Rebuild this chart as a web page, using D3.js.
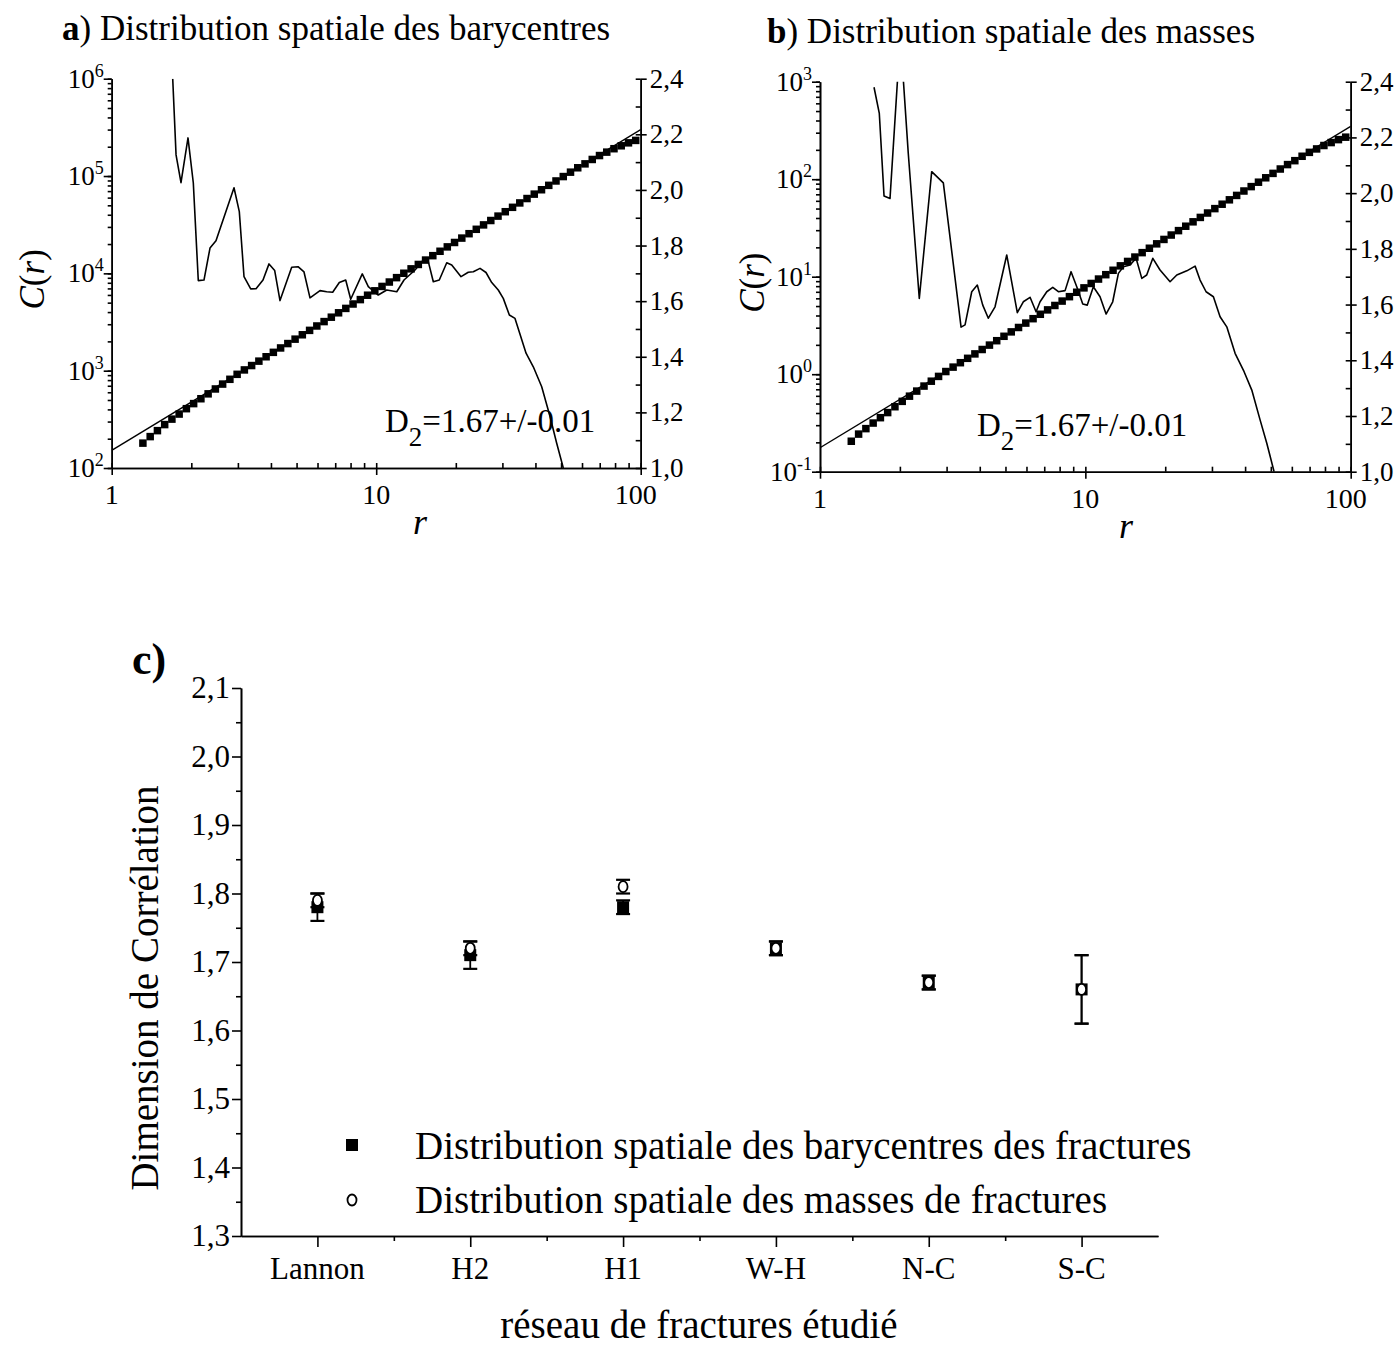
<!DOCTYPE html>
<html><head><meta charset="utf-8">
<script src="https://cdn.jsdelivr.net/npm/d3@7"></script>
<style>
body{margin:0;background:#fff}
svg{display:block}
text{font-family:"Liberation Serif","Times New Roman",serif;fill:#000}
</style>
</head><body>
<svg id="chart" width="1399" height="1347"></svg>
<script>
// ---------- DATA ----------
const radii = [1.312,1.398,1.489,1.586,1.689,1.799,1.916,2.041,2.174,2.315,2.466,2.627,2.798,2.980,3.174,3.381,3.601,3.835,4.085,4.351,4.634,4.936,5.257,5.600,5.964,6.353,6.766,7.207,7.676,8.176,8.710,9.277,9.881,10.52,11.21,11.94,12.72,13.55,14.43,15.37,16.37,17.43,18.57,19.78,21.07,22.44,23.90,25.46,27.12,28.88,30.76,32.77,34.90,37.17,39.59,42.17,44.92,47.84,50.96,54.28,57.81,61.58,65.59,69.86,74.41,79.25,84.41,89.91,95.76];
const corrBary = [180.1,210.2,242.0,279.3,317.8,358.3,406.9,458.7,514.8,578.0,648.7,728.3,815.3,917.4,1018,1129,1253,1390,1543,1712,1899,2108,2338,2595,2879,3194,3544,3932,4363,4842,5373,5961,6614,7338,8143,9035,10025,11122,12343,13694,15195,16862,18707,20759,23031,25555,28354,31464,34909,38735,42981,47690,52918,58709,65147,72277,80203,88978,98741,109550,121560,133350,147960,162340,176010,190850,204490,219250,232280];
const corrMass = [0.2053,0.2430,0.2765,0.3155,0.3581,0.4040,0.4638,0.5266,0.5952,0.6712,0.7555,0.8477,0.9493,1.065,1.182,1.312,1.455,1.615,1.792,1.988,2.206,2.448,2.717,3.014,3.344,3.710,4.117,4.567,5.068,5.623,6.240,6.923,7.681,8.523,9.458,10.49,11.64,12.92,14.34,15.90,17.65,19.58,21.73,24.11,26.75,29.69,32.94,36.55,40.55,44.99,49.92,55.39,61.46,68.19,75.67,83.95,93.15,103.4,114.7,127.2,141.2,154.9,171.9,188.5,204.4,221.6,237.5,254.6,269.8];
const fitR = [1, 100];
const fitBary = [151.7, 299900];
const fitMass = [0.1762, 348.3];

const slopeBaryR = [1.701,1.751,1.828,1.943,2.035,2.125,2.233,2.353,2.479,2.900,3.037,3.164,3.354,3.513,3.733,3.933,4.133,4.328,4.792,5.063,5.334,5.620,6.131,6.500,6.847,7.253,7.669,8.010,8.859,9.336,10.18,10.96,11.96,12.74,14.02,15.07,15.74,16.44,17.32,18.48,19.30,20.93,22.29,23.29,24.69,26.01,27.34,28.94,30.23,31.87,33.48,36.86,39.26,42.24,45.41,48.13,50.98];
const slopeBaryV = [2.40,2.126,2.026,2.187,2.025,1.674,1.676,1.791,1.817,2.008,1.922,1.688,1.644,1.645,1.676,1.734,1.710,1.602,1.722,1.724,1.705,1.612,1.638,1.634,1.632,1.667,1.676,1.607,1.698,1.652,1.622,1.640,1.634,1.676,1.712,1.748,1.742,1.670,1.676,1.738,1.730,1.688,1.704,1.706,1.718,1.703,1.667,1.640,1.610,1.550,1.538,1.413,1.364,1.292,1.185,1.089,1.0];
const slopeMassR = [1.598,1.673,1.743,1.836,2.008,2.151,2.367,2.636,2.916,3.401,3.521,3.731,3.916,4.105,4.309,4.567,5.055,5.541,5.837,6.189,6.520,6.750,7.155,7.537,7.913,8.386,8.834,9.281,9.777,10.17,10.72,11.36,11.97,12.68,13.32,13.91,14.74,15.53,16.32,17.03,17.96,19.12,20.86,22.11,24.12,25.92,27.06,28.51,30.38,32.19,34.12,36.67,39.65,42.39,45.55,48.28,51.44];
const slopeMassV = [2.380,2.286,1.990,1.981,2.567,2.143,1.622,2.077,2.037,1.519,1.527,1.646,1.670,1.598,1.551,1.592,1.778,1.571,1.610,1.626,1.574,1.610,1.646,1.662,1.646,1.650,1.718,1.664,1.602,1.598,1.664,1.628,1.566,1.610,1.712,1.736,1.742,1.766,1.694,1.706,1.766,1.724,1.682,1.706,1.721,1.738,1.688,1.646,1.628,1.556,1.520,1.425,1.359,1.293,1.186,1.102,1.0];

const rTicks = [1, 10, 100];
const rTickLabels = ["1", "10", "100"];
const expA = [2, 3, 4, 5, 6];
const expB = [-1, 0, 1, 2, 3];
const slopeTicks = [1.0, 1.2, 1.4, 1.6, 1.8, 2.0, 2.2, 2.4];
const slopeTickLabels = ["1,0","1,2","1,4","1,6","1,8","2,0","2,2","2,4"];

const networks = ["Lannon","H2","H1","W-H","N-C","S-C"];
const d2Bary = [1.78, 1.71, 1.78, 1.72, 1.67, 1.66];
const errBary = [0.02, 0.02, 0.01, 0.01, 0.01, 0.05];
const d2Mass = [1.79, 1.72, 1.81, 1.72, 1.67, 1.66];
const errMass = [0.01, 0.01, 0.01, 0.01, 0.01, 0.05];
const dimTicks = [1.3,1.4,1.5,1.6,1.7,1.8,1.9,2.0,2.1];
const dimTickLabels = ["1,3","1,4","1,5","1,6","1,7","1,8","1,9","2,0","2,1"];

// ---------- DRAW ----------
const svg = d3.select("#chart");
const AX = 1.6;

function styleAxis(sel){
  sel.selectAll("path,line").attr("stroke","#000").attr("stroke-width",AX);
  sel.selectAll("text").remove();
}

function logPanel(p){
  const g = svg.append("g");
  const x = d3.scaleLog().domain([1,100]).range([p.x0,p.x1]);
  const y = d3.scaleLog().domain(p.yDom).range([p.yb,p.yt]);
  const y2 = d3.scaleLinear().domain([1.0,2.4]).range([p.yb,p.yt]);
  const clipId = "clip" + p.id;
  svg.append("clipPath").attr("id",clipId).append("rect")
    .attr("x",p.x0).attr("y",p.yt).attr("width",p.x1-p.x0).attr("height",p.yb-p.yt);

  // left axis
  g.append("g").attr("transform",`translate(${p.x0},0)`)
    .call(d3.axisLeft(y).tickValues(y.ticks()).tickSize(4).tickSizeOuter(0).tickFormat(""))
    .call(styleAxis);
  const decs = p.exps.map(e => Math.pow(10,e));
  g.append("g").attr("transform",`translate(${p.x0},0)`)
    .call(d3.axisLeft(y).tickValues(decs).tickSize(8).tickSizeOuter(0).tickFormat(""))
    .call(styleAxis);
  p.exps.forEach(e => {
    const t = g.append("text").attr("x",p.x0-8).attr("y",y(Math.pow(10,e))+9)
      .attr("text-anchor","end").attr("font-size",27);
    t.append("tspan").text("10");
    t.append("tspan").attr("dy",-11).attr("font-size",18).text(String(e));
  });

  // bottom axis
  g.append("g").attr("transform",`translate(0,${p.yb})`)
    .call(d3.axisBottom(x).tickValues(x.ticks()).tickSize(-5).tickSizeOuter(0).tickFormat(""))
    .call(styleAxis);
  g.append("g").attr("transform",`translate(0,${p.yb})`)
    .call(d3.axisBottom(x).tickValues(rTicks).tickSize(7).tickSizeOuter(0).tickFormat(""))
    .call(styleAxis);
  rTicks.forEach((v,i) => {
    g.append("text").attr("x",x(v) - (i===2?5:0)).attr("y",p.yb+36)
      .attr("text-anchor","middle").attr("font-size",28).text(rTickLabels[i]);
  });

  // right axis
  g.append("g").attr("transform",`translate(${p.x1},0)`)
    .call(d3.axisRight(y2).tickValues(d3.range(10,25).map(d=>d/10)).tickSize(-5).tickSizeOuter(0).tickFormat(""))
    .call(styleAxis);
  g.append("g").attr("transform",`translate(${p.x1},0)`)
    .call(d3.axisRight(y2).tickValues(slopeTicks).tickSize(6).tickSizeOuter(0).tickFormat(""))
    .call(styleAxis);
  slopeTicks.forEach((v,i) => {
    g.append("text").attr("x",p.x1+9).attr("y",y2(v)+9)
      .attr("font-size",27).text(slopeTickLabels[i]);
  });

  // axis titles
  const ct = g.append("text").attr("transform",`translate(${p.ylabX},${(p.yt+p.yb)/2+6}) rotate(-90)`)
    .attr("text-anchor","middle").attr("font-size",35);
  ct.append("tspan").attr("font-style","italic").text("C");
  ct.append("tspan").text("(");
  ct.append("tspan").attr("font-style","italic").text("r");
  ct.append("tspan").text(")");
  g.append("text").attr("x",p.xlabX).attr("y",p.yb+66).attr("text-anchor","middle")
    .attr("font-size",36).attr("font-style","italic").text("r");

  const plot = g.append("g").attr("clip-path",`url(#${clipId})`);
  // fitted line
  plot.append("line")
    .attr("x1",x(fitR[0])).attr("y1",y(p.fit[0]))
    .attr("x2",x(fitR[1])).attr("y2",y(p.fit[1]))
    .attr("stroke","#000").attr("stroke-width",1.4);
  // local slope curve
  const pts = p.sR.map((r,i)=>({r, v:p.sV[i]}));
  plot.append("path").datum(pts)
    .attr("d", d3.line().x(d=>x(d.r)).y(d=>y2(d.v)))
    .attr("fill","none").attr("stroke","#000").attr("stroke-width",1.6).attr("stroke-linejoin","round");
  // squares
  const sq = 7.5;
  g.append("g").selectAll("rect").data(radii.map((r,i)=>({r, c:p.corr[i]})))
    .join("rect")
    .attr("x",d=>x(d.r)-sq/2).attr("y",d=>y(d.c)-sq/2)
    .attr("width",sq).attr("height",sq).attr("fill","#000");

  // D2 annotation
  const dt = g.append("text").attr("x",p.d2X).attr("y",p.yb-36).attr("font-size",33);
  dt.append("tspan").text("D");
  dt.append("tspan").attr("dy",14).attr("font-size",27).text("2");
  dt.append("tspan").attr("dy",-14).text("=1.67+/-0.01");

  // panel title
  const tt = svg.append("text").attr("x",p.titleX).attr("y",p.titleY).attr("font-size",35);
  tt.append("tspan").attr("font-weight","bold").text(p.letter);
  tt.append("tspan").text(") " + p.title);
}

logPanel({id:"a", x0:111.7, x1:640.7, yt:78.7, yb:468, yDom:[100,1e6], exps:expA,
  corr:corrBary, fit:fitBary, sR:slopeBaryR, sV:slopeBaryV,
  ylabX:44, xlabX:420, d2X:385, titleX:62, titleY:40, letter:"a",
  title:"Distribution spatiale des barycentres"});
logPanel({id:"b", x0:820, x1:1350.7, yt:81.7, yb:471.7, yDom:[0.1,1000], exps:expB,
  corr:corrMass, fit:fitMass, sR:slopeMassR, sV:slopeMassV,
  ylabX:764, xlabX:1126, d2X:977, titleX:767, titleY:43, letter:"b",
  title:"Distribution spatiale des masses"});

// ---------- PANEL C ----------
(function(){
  const left = 241, right = 1158, top = 688, bottom = 1236;
  const g = svg.append("g");
  const x = d3.scalePoint().domain(networks).range([left,right]).padding(0.5);
  const y = d3.scaleLinear().domain([1.3,2.1]).range([bottom,top]);

  g.append("g").attr("transform",`translate(${left},0)`)
    .call(d3.axisLeft(y).tickValues(d3.range(13,21).map(d=>d/10+0.05)).tickSize(5).tickSizeOuter(0).tickFormat(""))
    .call(styleAxis);
  g.append("g").attr("transform",`translate(${left},0)`)
    .call(d3.axisLeft(y).tickValues(dimTicks).tickSize(9).tickSizeOuter(0).tickFormat(""))
    .call(styleAxis);
  dimTicks.forEach((v,i)=>{
    g.append("text").attr("x",left-11).attr("y",y(v)+10).attr("text-anchor","end")
      .attr("font-size",31).text(dimTickLabels[i]);
  });

  const step = x.step();
  g.append("g").attr("transform",`translate(0,${bottom})`)
    .call(d3.axisBottom(x).tickSize(11).tickSizeOuter(0).tickFormat(""))
    .call(styleAxis);
  const mids = networks.slice(1).map(n => x(n) - step/2);
  g.append("g").attr("transform",`translate(0,${bottom})`)
    .call(d3.axisBottom(d3.scaleLinear().domain([left,right]).range([left,right]))
      .tickValues(mids).tickSize(5).tickSizeOuter(0).tickFormat(""))
    .call(styleAxis);
  networks.forEach(n=>{
    g.append("text").attr("x",x(n)).attr("y",bottom+43).attr("text-anchor","middle")
      .attr("font-size",31).text(n);
  });

  // titles
  g.append("text").attr("transform",`translate(158,${(top+bottom)/2+26}) rotate(-90)`)
    .attr("text-anchor","middle").attr("font-size",39).text("Dimension de Corrélation");
  g.append("text").attr("x",699).attr("y",1338).attr("text-anchor","middle")
    .attr("font-size",39).text("réseau de fractures étudié");
  g.append("text").attr("x",132).attr("y",674).attr("font-size",44).attr("font-weight","bold").text("c)");

  const cap = 7;
  function errBars(vals, errs){
    networks.forEach((n,i)=>{
      const cx = x(n), lo = y(vals[i]-errs[i]), hi = y(vals[i]+errs[i]);
      g.append("line").attr("x1",cx).attr("x2",cx).attr("y1",lo).attr("y2",hi)
        .attr("stroke","#000").attr("stroke-width",1.8);
      [lo,hi].forEach(yy => g.append("line").attr("x1",cx-cap).attr("x2",cx+cap)
        .attr("y1",yy).attr("y2",yy).attr("stroke","#000").attr("stroke-width",2.2));
    });
  }
  errBars(d2Bary, errBary);
  errBars(d2Mass, errMass);
  const s = 12;
  g.append("g").selectAll("rect").data(networks).join("rect")
    .attr("x",n=>x(n)-s/2).attr("y",(n,i)=>y(d2Bary[i])-s/2)
    .attr("width",s).attr("height",s).attr("fill","#000");
  g.append("g").selectAll("ellipse").data(networks).join("ellipse")
    .attr("cx",n=>x(n)).attr("cy",(n,i)=>y(d2Mass[i]))
    .attr("rx",4.5).attr("ry",5.5).attr("fill","#fff").attr("stroke","#000").attr("stroke-width",1.8);

  // legend
  g.append("rect").attr("x",352-6).attr("y",1145-6).attr("width",12).attr("height",12).attr("fill","#000");
  g.append("text").attr("x",415).attr("y",1159).attr("font-size",39)
    .text("Distribution spatiale des barycentres des fractures");
  g.append("ellipse").attr("cx",352).attr("cy",1200).attr("rx",4.5).attr("ry",5.5)
    .attr("fill","#fff").attr("stroke","#000").attr("stroke-width",1.8);
  g.append("text").attr("x",415).attr("y",1213).attr("font-size",39)
    .text("Distribution spatiale des masses de fractures");
})();
</script>
</body></html>
